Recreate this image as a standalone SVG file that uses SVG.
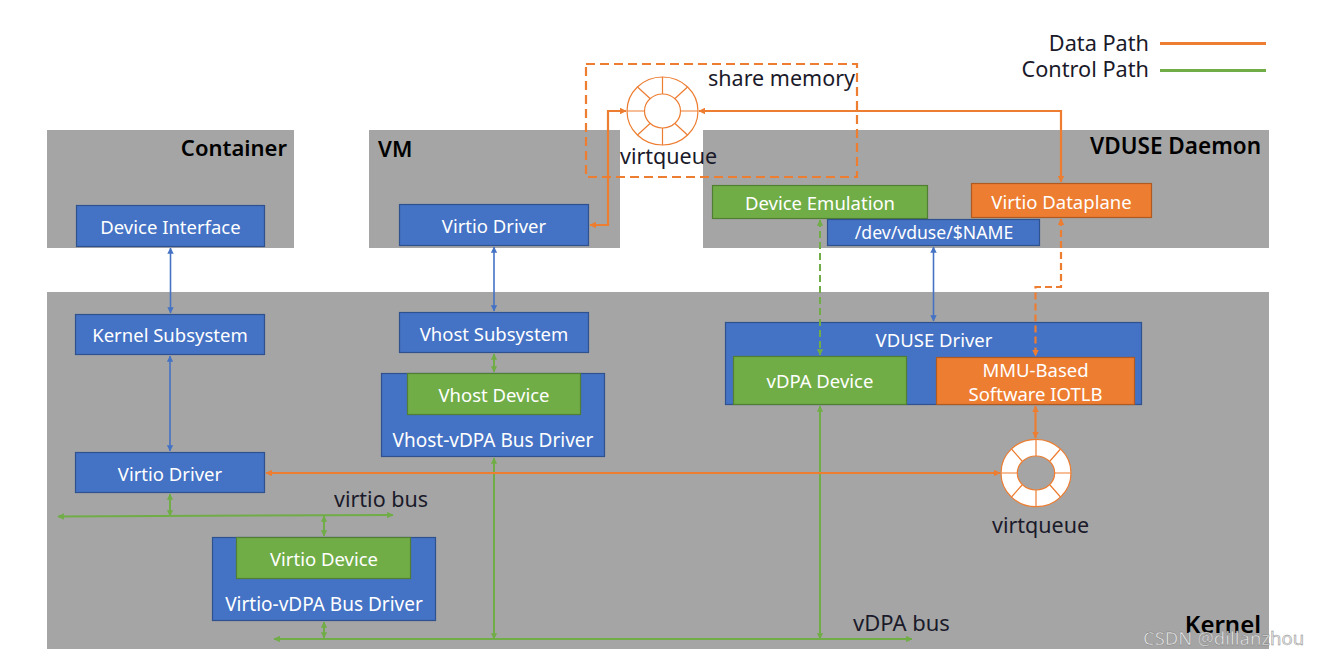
<svg xmlns="http://www.w3.org/2000/svg" width="1319" height="655" viewBox="0 0 1319 655">
<style>
text{font-family:"Noto Sans","Noto Sans CJK SC","Liberation Sans",sans-serif}
.zone{fill:#a5a5a5}
.blue{fill:#4472c4;stroke:#2f528f;stroke-width:1.2}
.green{fill:#70ad47;stroke:#507e32;stroke-width:1.2}
.orange{fill:#ed7d31;stroke:#ae5a21;stroke-width:1.2}
.lbl{fill:#fff;font-size:18.500px;text-anchor:middle}
.wide{font-size:19px}
.big{fill:#1a1a2a;font-size:21.500px}
.head{fill:#000;font-size:22px;font-weight:600}
.ring{stroke:#ed7d31;stroke-width:1.2}
.cb{stroke:#4472c4;stroke-width:1.6;fill:none;marker-start:url(#ab);marker-end:url(#ab)}
.cg{stroke:#70ad47;stroke-width:2;fill:none;marker-start:url(#ag);marker-end:url(#ag)}
.co{stroke:#ed7d31;stroke-width:2.200;fill:none;marker-start:url(#ao);marker-end:url(#ao)}
.dash{stroke-dasharray:7 4}
</style>
<defs>
<marker id="ab" viewBox="0 0 6 6" refX="5.500" refY="3" markerWidth="4" markerHeight="4" orient="auto-start-reverse"><path d="M0 0L6 3L0 6Z" fill="#4472c4"/></marker>
<marker id="ag" viewBox="0 0 6 6" refX="5.500" refY="3" markerWidth="3.200" markerHeight="3.200" orient="auto-start-reverse"><path d="M0 0L6 3L0 6Z" fill="#70ad47"/></marker>
<marker id="ao" viewBox="0 0 6 6" refX="5.500" refY="3" markerWidth="3" markerHeight="3" orient="auto-start-reverse"><path d="M0 0L6 3L0 6Z" fill="#ed7d31"/></marker>
</defs>
<rect width="1319" height="655" fill="#fff"/>
<g id="zone-container"><rect class="zone" x="47" y="130" width="247" height="118"/><text class="head" x="287" y="156" text-anchor="end">Container</text></g>
<g id="zone-vm"><rect class="zone" x="369" y="130" width="251" height="118"/><text class="head" x="378" y="157">VM</text></g>
<g id="zone-daemon"><rect class="zone" x="703" y="130" width="566" height="118"/><text class="head" x="1261" y="154" text-anchor="end" style="font-size:22.500px">VDUSE Daemon</text></g>
<g id="zone-kernel"><rect class="zone" x="47" y="292" width="1222" height="357"/><text class="head" x="1261" y="633" text-anchor="end" style="font-size:24px">Kernel</text></g>
<g id="share-memory"><rect x="586" y="64" width="271" height="113" fill="none" stroke="#ed7d31" stroke-width="2.200" stroke-dasharray="9 5"/><text class="big" x="708" y="86">share memory</text></g>
<g id="virtqueue-top">
<ellipse cx="662.500" cy="111" rx="35.500" ry="34" fill="#fff" class="ring"/><ellipse cx="662.500" cy="111" rx="18" ry="17" fill="#fff" class="ring"/>
<path class="ring" d="M662.500 77V94M662.500 128V145M627 111H644.500M680.500 111H698M637.500 87L650 98.500M675 123.500L687.500 135M687.500 87L675 98.500M650 123.500L637.500 135"/>
<text class="big" x="620" y="164">virtqueue</text></g>
<g id="device-interface"><rect class="blue" x="76.500" y="205.500" width="188" height="41"/><text class="lbl" x="170.500" y="233.500">Device Interface</text></g>
<g id="virtio-driver-vm"><rect class="blue" x="399.500" y="204.500" width="189" height="41"/><text class="lbl" x="494" y="233">Virtio Driver</text></g>
<g id="device-emulation"><rect class="green" x="712.500" y="185.500" width="215" height="33"/><text class="lbl" x="820" y="210">Device Emulation</text></g>
<g id="virtio-dataplane"><rect class="orange" x="971.500" y="183.500" width="180" height="34"/><text class="lbl" x="1061.500" y="209">Virtio Dataplane</text></g>
<g id="dev-vduse"><rect class="blue" x="827.500" y="219.500" width="212" height="26"/><text class="lbl" x="934" y="239" style="font-size:17.600px">/dev/vduse/$NAME</text></g>
<g id="kernel-subsystem"><rect class="blue" x="75.500" y="314.500" width="189" height="40"/><text class="lbl" x="170" y="342">Kernel Subsystem</text></g>
<g id="vhost-subsystem"><rect class="blue" x="399.500" y="312.500" width="189" height="40"/><text class="lbl" x="494" y="341">Vhost Subsystem</text></g>
<g id="vhost-vdpa"><rect class="blue" x="381.500" y="373.500" width="223" height="83"/><text class="lbl wide" x="493" y="447">Vhost-vDPA Bus Driver</text></g>
<g id="vhost-device"><rect class="green" x="407.500" y="373.500" width="173" height="41"/><text class="lbl" x="494" y="402">Vhost Device</text></g>
<g id="vduse-driver"><rect class="blue" x="725.500" y="322.500" width="416" height="82"/><text class="lbl" x="934" y="347">VDUSE Driver</text></g>
<g id="vdpa-device"><rect class="green" x="733.500" y="356.500" width="173" height="48"/><text class="lbl" x="820" y="388">vDPA Device</text></g>
<g id="mmu"><rect class="orange" x="936.500" y="357.500" width="198" height="47"/><text class="lbl" x="1035.500" y="377">MMU-Based</text><text class="lbl" x="1035.500" y="401">Software IOTLB</text></g>
<g id="virtio-driver"><rect class="blue" x="75.500" y="452.500" width="189" height="40"/><text class="lbl" x="170" y="481">Virtio Driver</text></g>
<g id="virtio-vdpa"><rect class="blue" x="212.500" y="537.500" width="223" height="83"/><text class="lbl wide" x="324" y="611">Virtio-vDPA Bus Driver</text></g>
<g id="virtio-device"><rect class="green" x="236.500" y="537.500" width="174" height="41"/><text class="lbl" x="324" y="566">Virtio Device</text></g>
<g id="virtqueue-bottom">
<path fill="#fff" fill-rule="evenodd" d="M1001 473a35 33.700 0 1 0 70 0a35 33.700 0 1 0 -70 0ZM1017.300 473a18.700 17 0 1 0 37.400 0a18.700 17 0 1 0 -37.400 0Z"/>
<ellipse cx="1036" cy="473" rx="35" ry="33.700" fill="none" class="ring"/><ellipse cx="1036" cy="473" rx="18.700" ry="17" fill="none" class="ring"/>
<path class="ring" d="M1036 439V456M1036 490V507M1001 473H1017.300M1054.700 473H1071M1011.500 449L1022 461M1050 485L1060.500 497M1060.500 449L1050 461M1022 485L1011.500 497"/>
<text class="big" x="992" y="533">virtqueue</text></g>
<g id="connectors">
<path class="cb" d="M170.500 248V313"/>
<path class="cb" d="M170 356V451"/>
<path class="cb" d="M494 247V311"/>
<path class="cb" d="M933.500 247V321"/>
<path class="cg" d="M494 354V372"/>
<path class="cg" d="M170 494V516"/>
<path class="cg" d="M324 516V536"/>
<path class="cg" d="M58 516.500L393 515"/>
<path class="cg" d="M324 622V638"/>
<path class="cg" d="M274 639H912"/>
<path class="cg" d="M494 458V639"/>
<path class="cg" d="M820 406V639"/>
<path class="cg dash" d="M820 220V355"/>
<path class="co" d="M590 225H608V111H626"/>
<path class="co" d="M699 111H1061V182"/>
<path class="co dash" d="M1061 219V287H1035.500V356"/>
<path class="co" d="M1035.500 406V438"/>
<path class="co" d="M266 473H1000"/>
</g>
<g id="legend">
<text x="1149" y="51" text-anchor="end" fill="#1a1a2a" style="font-size:21.700px">Data Path</text><path d="M1160 43.500H1266" stroke="#ed7d31" stroke-width="3"/>
<text x="1149" y="77" text-anchor="end" fill="#1a1a2a" style="font-size:21.700px">Control Path</text><path d="M1160 70.500H1266" stroke="#70ad47" stroke-width="3"/>
</g>
<text class="big" x="334" y="507">virtio bus</text>
<text class="big" x="853" y="631" style="font-size:22px">vDPA bus</text>
<text x="1143" y="645" style="font-size:18.500px" fill="#e8e8e8" stroke="#777" stroke-width="0.400">CSDN @dillanzhou</text>
</svg>
